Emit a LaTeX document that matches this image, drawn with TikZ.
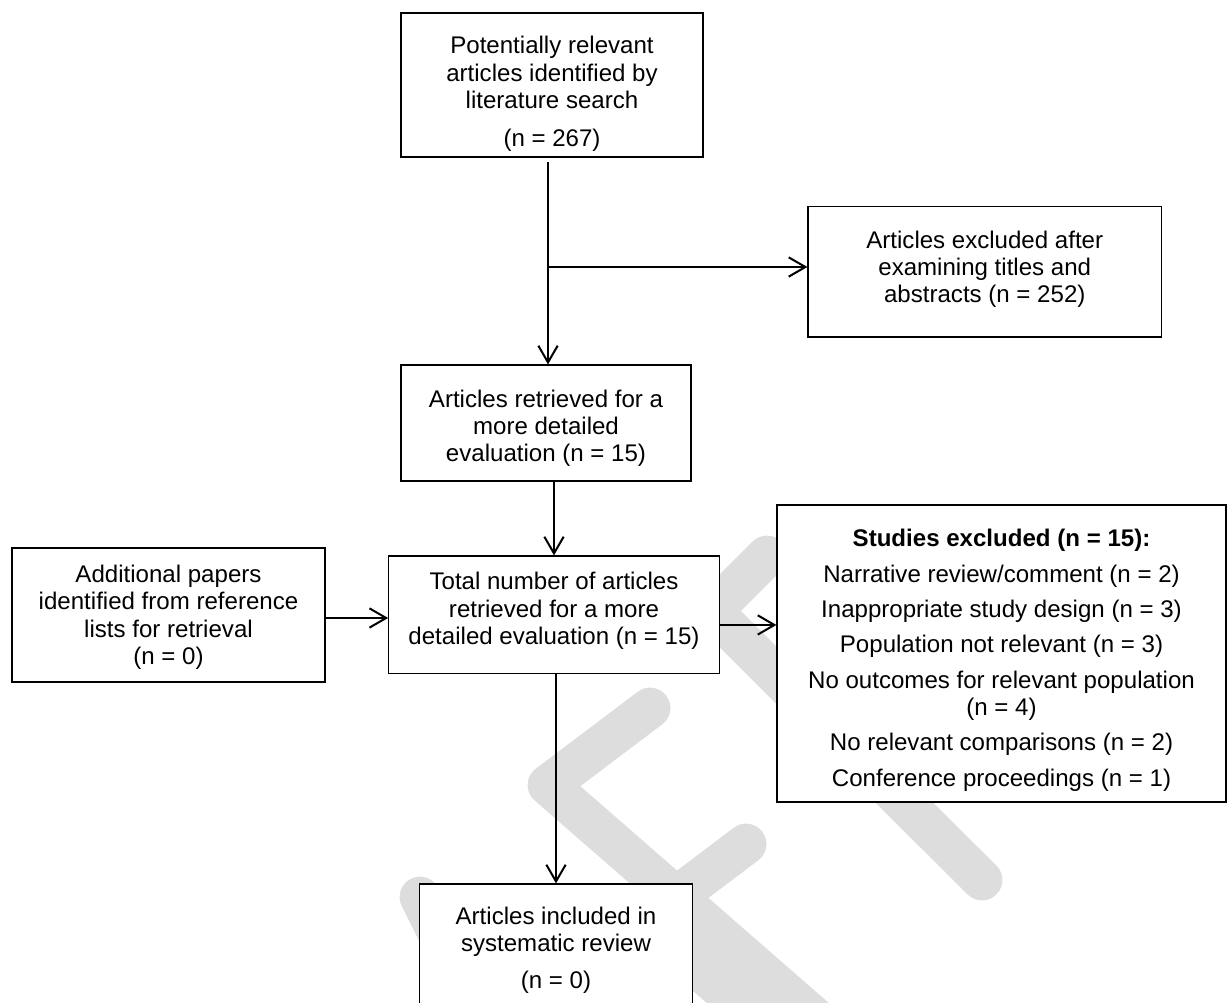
\documentclass[tikz,border=0pt]{standalone}
\usepackage{fontspec}
\setmainfont{Liberation Sans}
\usetikzlibrary{arrows.meta}
\definecolor{wmgray}{RGB}{221,221,221}
\tikzset{
  box/.style={draw, fill=white, line width=0.7pt, align=center, inner sep=0pt, text depth=0pt},
  arr/.style={line width=1.15pt, -{Straight Barb[length=9.5pt,width=11pt]}},
  wmark/.style={draw=wmgray, line width=23.2pt, line cap=round, line join=round},
}

\begin{document}
\begin{tikzpicture}[x=0.02cm, y=-0.02cm, font=\fontsize{13.7}{15.5}\selectfont]
    \useasboundingbox (0,0) rectangle (1227,1002);

    % watermark behind the boxes
    \draw[wmark] (767,556) -- (712,611) -- (982,880);
    \draw[wmark] (650,708) -- (548,785) -- (838,1038);
    \draw[wmark] (746,844) -- (644,921) -- (900,1145);
    \draw[wmark] (420,897) -- (520,1097);

    \node[box, minimum width=6.04cm, minimum height=2.88cm, text height=69.8pt] (found) at (552,85)
        {Potentially relevant\\articles identified by\\literature search\\[6.1pt](n = 267)};
    \node[box, minimum width=7.07cm, minimum height=2.61cm, text height=35.5pt] (excl) at (984.75,271.75)
        {Articles excluded after\\examining titles and\\abstracts (n = 252)};
    \node[box, minimum width=5.8cm, minimum height=2.32cm, text height=43.8pt] (retr) at (546,423)
        {Articles retrieved for a\\more detailed\\evaluation (n = 15)};
    \node[box, minimum width=6.61cm, minimum height=2.35cm, text height=33.8pt] (total) at (554,614.75)
        {Total number of articles\\retrieved for a more\\detailed evaluation (n = 15)};
    \node[box, minimum width=6.26cm, minimum height=2.68cm, text height=56.2pt] (extra) at (168.5,615)
        {Additional papers\\identified from reference\\lists for retrieval\\(n = 0)};
    \node[box, minimum width=8.98cm, minimum height=5.94cm, text height=150.9pt] (studies) at (1001.5,653.5)
        {\textbf{Studies excluded (n = 15):}\\[4.6pt]Narrative review/comment (n = 2)\\[4.6pt]%
         Inappropriate study design (n = 3)\\[4.6pt]Population not relevant (n = 3)\\[4.6pt]%
         No outcomes for relevant population\\(n = 4)\\[4.6pt]No relevant comparisons (n = 2)\\[4.6pt]%
         Conference proceedings (n = 1)};
    \node[box, minimum width=5.46cm, minimum height=2.88cm, text height=37pt] (incl) at (556,956)
        {Articles included in\\systematic review\\[5.5pt](n = 0)};

    \coordinate (split) at (548,267);
    \draw[arr, shorten <=2.5pt] (found.south -| split) -- (retr.north -| split);
    \draw[arr] (split) -- (excl.west |- split);
    \draw[arr] (total.north |- retr.south) -- (total.north);
    \draw[arr] ([yshift=-1.7pt]extra.east) -- ([yshift=-1.7pt]extra.east -| total.west);
    \draw[arr] ([yshift=-5.8pt]total.east) -- ([yshift=-5.8pt]total.east -| studies.west);
    \draw[arr] (incl.north |- total.south) -- (incl.north);
\end{tikzpicture}
\end{document}
